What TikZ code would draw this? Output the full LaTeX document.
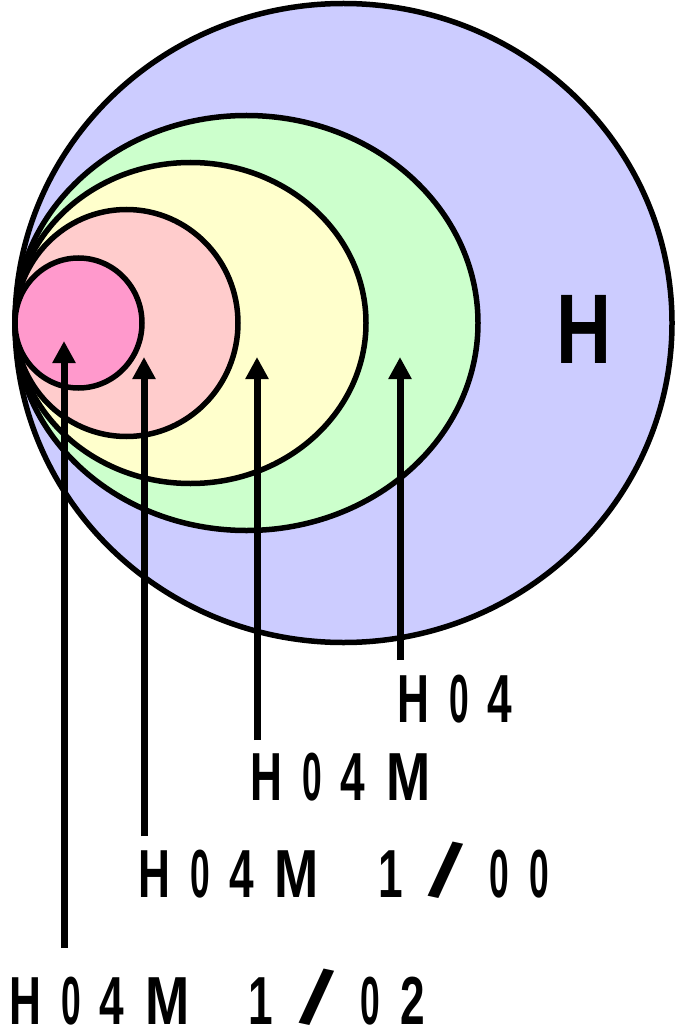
\documentclass[tikz,border=0pt]{standalone}
\usepackage{fontspec}
\usetikzlibrary{arrows.meta,shapes.geometric}
\newfontfamily\lblfont[FakeStretch=0.65]{Liberation Sans}
\newfontfamily\bigfont[FakeStretch=0.77]{Liberation Sans}
\definecolor{cBlue}{HTML}{CCCCFF}
\definecolor{cGreen}{HTML}{CCFFCC}
\definecolor{cYellow}{HTML}{FFFFCC}
\definecolor{cPink}{HTML}{FFCCCC}
\definecolor{cMag}{HTML}{FF99CC}
\newcommand\wideM{\scalebox{1.2}[1]{M}}
\newcommand\wideSl{\raisebox{-1pt}{\rotatebox[origin=c]{-12}{\scalebox{2.1}[1.15]{/}}}}
\newcommand\thinZ{\scalebox{0.8}[1]{0}}
\newcommand\hfour{H\hspace{20pt}\thinZ\hspace{19pt}4}
\newcommand\hfourm{\hfour\hspace{21pt}\wideM}
\tikzset{
  ring/.style={draw=black, line width=5.5pt, ellipse, inner sep=0pt},
  ptr/.style={line width=7pt, line cap=butt, -{Triangle[width=22pt,length=22pt]}},
  lbl/.style={anchor=base west, inner sep=0pt, font=\lblfont\bfseries\fontsize{68}{68}\selectfont},
}
\begin{document}
\begin{tikzpicture}[x=1pt,y=-1pt]
\useasboundingbox (0,0) rectangle (675,1032);
\node[ring, fill=cBlue,   minimum width=657pt, minimum height=639pt] (outer) at (343.5,323) {};
\node[ring, fill=cGreen,  minimum width=463pt, minimum height=415pt] (green) at (246.5,323) {};
\node[ring, fill=cYellow, minimum width=351pt, minimum height=321pt] (yellow) at (190.5,323) {};
\node[ring, fill=cPink,   minimum width=223pt, minimum height=227pt] (pink) at (126.5,323) {};
\node[ring, fill=cMag,    minimum width=127pt, minimum height=130pt] (mag) at (78.5,323) {};
\node[anchor=base west, inner sep=0pt, font=\bigfont\bfseries\fontsize{99}{99}\selectfont] (H) at (556,363) {H};
\node[lbl] (l1) at (397,722) {\hfour};
\node[lbl] (l2) at (250,800) {\hfourm};
\node[lbl] (l3) at (138.5,897) {\hfourm\hspace{59pt}1\hspace{25pt}\wideSl\hspace{25pt}\thinZ\hspace{20pt}\thinZ};
\node[lbl] (l4) at (9,1024) {\hfourm\hspace{59pt}1\hspace{25pt}\wideSl\hspace{25pt}\thinZ\hspace{20pt}2};
\coordinate (t1) at (400,357); \coordinate (b1) at (400,660);
\coordinate (t2) at (257,357); \coordinate (b2) at (257,740);
\coordinate (t3) at (144,357); \coordinate (b3) at (144,836);
\coordinate (t4) at (64,341);  \coordinate (b4) at (64,948);
\draw[ptr] (b1) -- (t1);
\draw[ptr] (b2) -- (t2);
\draw[ptr] (b3) -- (t3);
\draw[ptr] (b4) -- (t4);
\end{tikzpicture}
\end{document}
